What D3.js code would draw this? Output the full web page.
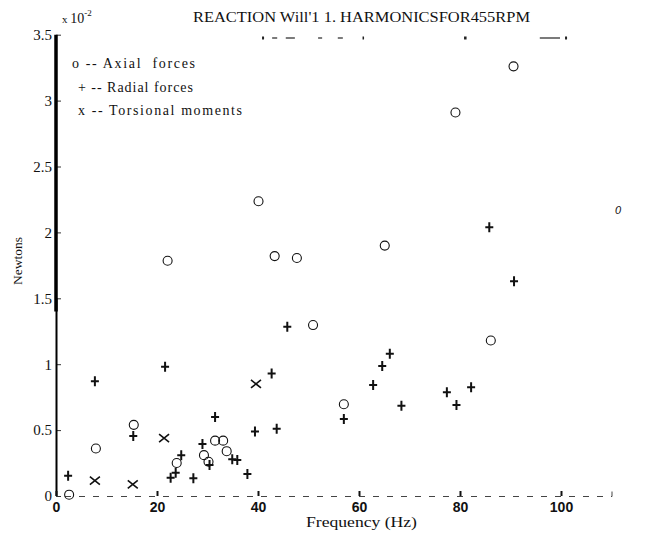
<!DOCTYPE html>
<html>
<head>
<meta charset="utf-8">
<script src="https://cdn.jsdelivr.net/npm/d3@7"></script>
<style>
  body { margin: 0; background: #fff; }
  svg { display: block; }
  text { fill: #111; }
</style>
</head>
<body>
<svg width="657" height="539"></svg>
<script>
// values in units of 1e-2 N, frequency in Hz
const axialFreq = [2.6, 7.9, 15.4, 22.1, 23.9, 29.3, 31.5, 33.1, 33.8, 30.2, 40.1, 43.3, 47.7, 50.9, 57.0, 65.1, 79.1, 90.6, 86.1];
const axialVal  = [0.01, 0.36, 0.54, 1.785, 0.25, 0.31, 0.42, 0.42, 0.34, 0.26, 2.236, 1.82, 1.806, 1.297, 0.696, 1.90, 2.91, 3.26, 1.18];

const radialFreq = [2.4, 7.7, 15.3, 21.6, 22.7, 23.7, 24.8, 27.2, 29.0, 31.5, 30.4, 34.9, 35.9, 37.9, 39.4, 43.7, 42.7, 45.8, 57.0, 62.8, 64.6, 66.1, 68.4, 77.4, 79.3, 82.2, 85.8, 90.7];
const radialVal  = [0.154, 0.87, 0.455, 0.98, 0.139, 0.177, 0.31, 0.134, 0.395, 0.60, 0.235, 0.278, 0.273, 0.167, 0.49, 0.51, 0.93, 1.285, 0.584, 0.842, 0.986, 1.08, 0.685, 0.787, 0.69, 0.825, 2.04, 1.63];

const torsionFreq = [7.7, 15.2, 21.4, 39.6];
const torsionVal  = [0.116, 0.089, 0.44, 0.85];

const xTicks = [0, 20, 40, 60, 80, 100];
const yTicks = [0, 0.5, 1, 1.5, 2, 2.5, 3, 3.5];
const legendLines = ['o -- Axial  forces', '+ -- Radial forces', 'x -- Torsional moments'];
// surviving pieces of the top frame on the scan, [from, to] in Hz
const topFragments = [[40.8, 41.2], [42.8, 43.8], [45.5, 47.3], [51.9, 52.7], [55.8, 56.8], [60.7, 61.0], [80.8, 81.3], [95.8, 99.8], [100.8, 101.2]];

const svg = d3.select('svg');
const serif = '"Liberation Serif", "DejaVu Serif", serif';
const sans = '"Liberation Sans", Arial, sans-serif';

const x = d3.scaleLinear().domain([0, 110]).range([56, 611.5]);
const y = d3.scaleLinear().domain([0, 3.5]).range([496, 34.7]);

// title
svg.append('text')
    .attr('x', 193).attr('y', 22)
    .attr('textLength', 337)
    .attr('lengthAdjust', 'spacingAndGlyphs')
    .style('font-family', serif)
    .style('font-size', '15px')
    .text("REACTION Will'1 1. HARMONICSFOR455RPM");

// exponent label
const ex = svg.append('text')
    .attr('x', 62).attr('y', 23)
    .style('font-family', serif)
    .style('font-size', '14px');
ex.append('tspan').style('font-size', '11px').text('x ');
ex.append('tspan').text('10');
ex.append('tspan').attr('dy', -7).style('font-size', '9px').text('-2');

// top border fragments
svg.selectAll('line.top')
  .data(topFragments)
  .enter().append('line')
    .attr('class', 'top')
    .attr('x1', d => x(d[0])).attr('x2', d => x(d[1]))
    .attr('y1', 38).attr('y2', 38)
    .attr('stroke', '#222')
    .attr('stroke-width', d => d[1] - d[0] < 0.6 ? 3 : 1.2);

// y axis
const yAxis = svg.append('g')
    .attr('transform', `translate(${x(0)},0)`)
    .call(d3.axisLeft(y).tickValues(yTicks).tickSize(-5).tickPadding(4)
      .tickFormat(d => String(d)));
yAxis.select('.domain').remove();
yAxis.selectAll('.tick line').attr('stroke', '#333');
yAxis.selectAll('text')
    .style('font-family', serif)
    .style('font-size', '15px')
    .attr('fill', '#111');

// thick left spine
svg.append('line')
    .attr('x1', x(0)).attr('x2', x(0))
    .attr('y1', y(3.5)).attr('y2', y(1.4))
    .attr('stroke', '#000').attr('stroke-width', 3.5);
svg.append('line')
    .attr('x1', x(0) + 0.5).attr('x2', x(0) + 0.5)
    .attr('y1', y(1.5)).attr('y2', y(0))
    .attr('stroke', '#000').attr('stroke-width', 2);

// x axis
const xAxis = svg.append('g')
    .attr('transform', `translate(0,${y(0)})`)
    .call(d3.axisBottom(x).tickValues(xTicks).tickSize(-5).tickPadding(6));
xAxis.select('.domain')
    .attr('stroke', '#444')
    .attr('stroke-width', 1)
    .attr('stroke-dasharray', '6 8');
xAxis.selectAll('.tick line').attr('stroke', '#111').attr('stroke-width', 2);
xAxis.selectAll('text')
    .style('font-family', sans)
    .style('font-weight', 'bold')
    .style('font-size', '14px')
    .attr('fill', '#111');

// axis labels
svg.append('text')
    .attr('x', 306).attr('y', 527)
    .attr('textLength', 111)
    .attr('lengthAdjust', 'spacingAndGlyphs')
    .style('font-family', serif)
    .style('font-size', '14px')
    .text('Frequency (Hz)');

svg.append('text')
    .attr('transform', 'translate(22,261) rotate(-90)')
    .attr('text-anchor', 'middle')
    .style('font-family', serif)
    .style('font-size', '13.5px')
    .text('Newtons');

// legend
const legendLen = [123, 115, 164];
svg.selectAll('text.legend')
  .data(legendLines)
  .enter().append('text')
    .attr('class', 'legend')
    .attr('x', (d, i) => i === 0 ? 72 : 78)
    .attr('y', (d, i) => 68 + i * 23.5)
    .attr('textLength', (d, i) => legendLen[i])
    .attr('lengthAdjust', 'spacing')
    .style('font-family', serif)
    .style('font-size', '14px')
    .style('white-space', 'pre')
    .text(d => d);

// axial forces: circles
svg.selectAll('circle.axial')
  .data(axialFreq.map((f, i) => [f, axialVal[i]]))
  .enter().append('circle')
    .attr('class', 'axial')
    .attr('cx', d => x(d[0]))
    .attr('cy', d => y(d[1]))
    .attr('r', 4.5)
    .attr('fill', 'none')
    .attr('stroke', '#111')
    .attr('stroke-width', 1.1);

// radial forces: plus
svg.selectAll('path.radial')
  .data(radialFreq.map((f, i) => [f, radialVal[i]]))
  .enter().append('path')
    .attr('class', 'radial')
    .attr('transform', d => `translate(${x(d[0])},${y(d[1])})`)
    .attr('d', 'M-4,0H4M0,-5V5')
    .attr('fill', 'none')
    .attr('stroke', '#111')
    .attr('stroke-width', 2);

// torsional moments: x
svg.selectAll('path.torsion')
  .data(torsionFreq.map((f, i) => [f, torsionVal[i]]))
  .enter().append('path')
    .attr('class', 'torsion')
    .attr('transform', d => `translate(${x(d[0])},${y(d[1])})`)
    .attr('d', 'M-5,-4L5,4M-5,4L5,-4')
    .attr('fill', 'none')
    .attr('stroke', '#111')
    .attr('stroke-width', 1.6);

// stray mark on the scan
svg.append('text')
    .attr('x', 618).attr('y', 214)
    .attr('text-anchor', 'middle')
    .style('font-family', sans)
    .style('font-style', 'italic')
    .style('font-size', '11px')
    .text('0');
</script>
</body>
</html>
